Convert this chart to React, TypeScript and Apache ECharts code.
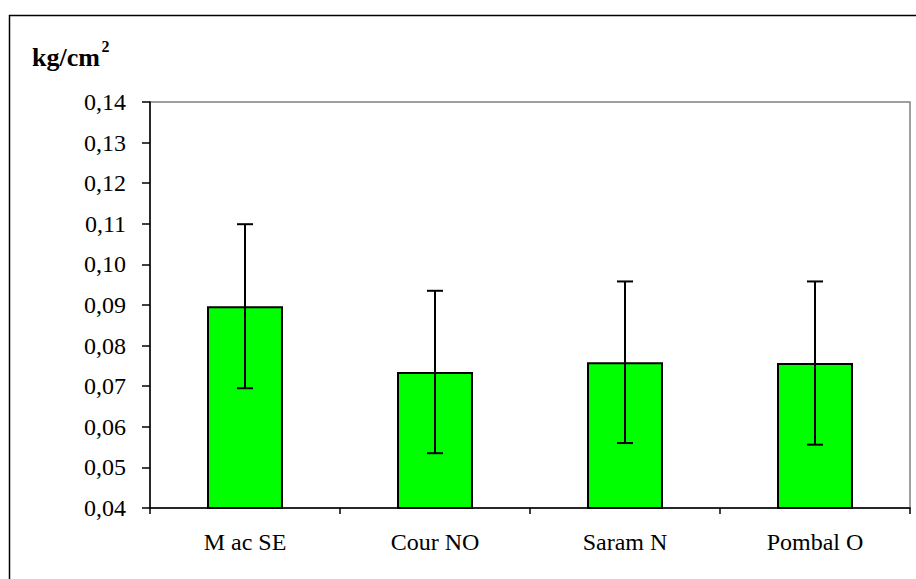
import React, { useEffect, useRef } from "react";
import * as echarts from "echarts";

const categories = ["M ac SE", "Cour NO", "Saram N", "Pombal O"];
const means = [0.0897, 0.0735, 0.0759, 0.0757];
const errors = [0.0202, 0.02, 0.0199, 0.0201];
const yTicks = { min: 0.04, max: 0.14, interval: 0.01 };

export default function App() {
  const ref = useRef<HTMLDivElement>(null);
  useEffect(() => {
    if (!ref.current) return;
    const chart = echarts.init(ref.current, null, { renderer: "svg" });
    const font = "Liberation Serif";
    const errData = means.map((m, i) => [i, m - errors[i], m + errors[i]]);
    chart.setOption({
      animation: false,
      backgroundColor: "#ffffff",
      grid: {
        left: 150,
        top: 102,
        right: 6,
        bottom: 71,
        show: true,
        borderColor: "#808080",
        borderWidth: 1.5,
        backgroundColor: "#ffffff",
      },
      graphic: [
        {
          type: "rect",
          shape: { x: 9.5, y: 15.5, width: 930, height: 600 },
          style: { fill: "none", stroke: "#000", lineWidth: 1.5 },
          silent: true,
          z: 100,
        },
        {
          type: "text",
          x: 32,
          y: 44.5,
          style: {
            text: "kg/cm",
            fontFamily: font,
            fontWeight: "bold",
            fontSize: 26,
            fill: "#000",
          },
        },
        {
          type: "text",
          x: 101.5,
          y: 38,
          style: {
            text: "2",
            fontFamily: font,
            fontWeight: "bold",
            fontSize: 16,
            fill: "#000",
          },
        },
      ],
      xAxis: {
        type: "category",
        data: categories,
        boundaryGap: true,
        axisLine: { lineStyle: { color: "#000", width: 1.5 } },
        axisTick: { show: true, length: 6, inside: false, alignWithLabel: false, lineStyle: { color: "#000", width: 1.5 } },
        axisLabel: { color: "#000", fontFamily: font, fontSize: 24, margin: 22 },
        splitLine: { show: false },
      },
      yAxis: {
        type: "value",
        min: yTicks.min,
        max: yTicks.max,
        interval: yTicks.interval,
        axisLine: { show: true, lineStyle: { color: "#000", width: 1.5 } },
        axisTick: { show: true, length: 8, inside: false, lineStyle: { color: "#000", width: 1.5 } },
        axisLabel: {
          color: "#000",
          fontFamily: font,
          fontSize: 24,
          margin: 24,
          formatter: (v: number) => v.toFixed(2).replace(".", ","),
        },
        splitLine: { show: false },
      },
      series: [
        {
          type: "bar",
          data: means,
          barWidth: "40%",
          itemStyle: { color: "#00ff00", borderColor: "#000", borderWidth: 2 },
        },
        {
          type: "custom",
          data: errData,
          z: 10,
          renderItem: (params: any, api: any) => {
            const x = api.value(0);
            const lo = api.coord([x, api.value(1)]);
            const hi = api.coord([x, api.value(2)]);
            const cap = 8;
            const style = { stroke: "#000", lineWidth: 2 };
            return {
              type: "group",
              children: [
                { type: "line", shape: { x1: hi[0], y1: hi[1], x2: lo[0], y2: lo[1] }, style },
                { type: "line", shape: { x1: hi[0] - cap, y1: hi[1], x2: hi[0] + cap, y2: hi[1] }, style },
                { type: "line", shape: { x1: lo[0] - cap, y1: lo[1], x2: lo[0] + cap, y2: lo[1] }, style },
              ],
            };
          },
        },
      ],
    });
    return () => chart.dispose();
  }, []);
  return (
    <div
      ref={ref}
      style={{ position: "fixed", left: 0, top: 0, width: 916, height: 579 }}
    />
  );
}
